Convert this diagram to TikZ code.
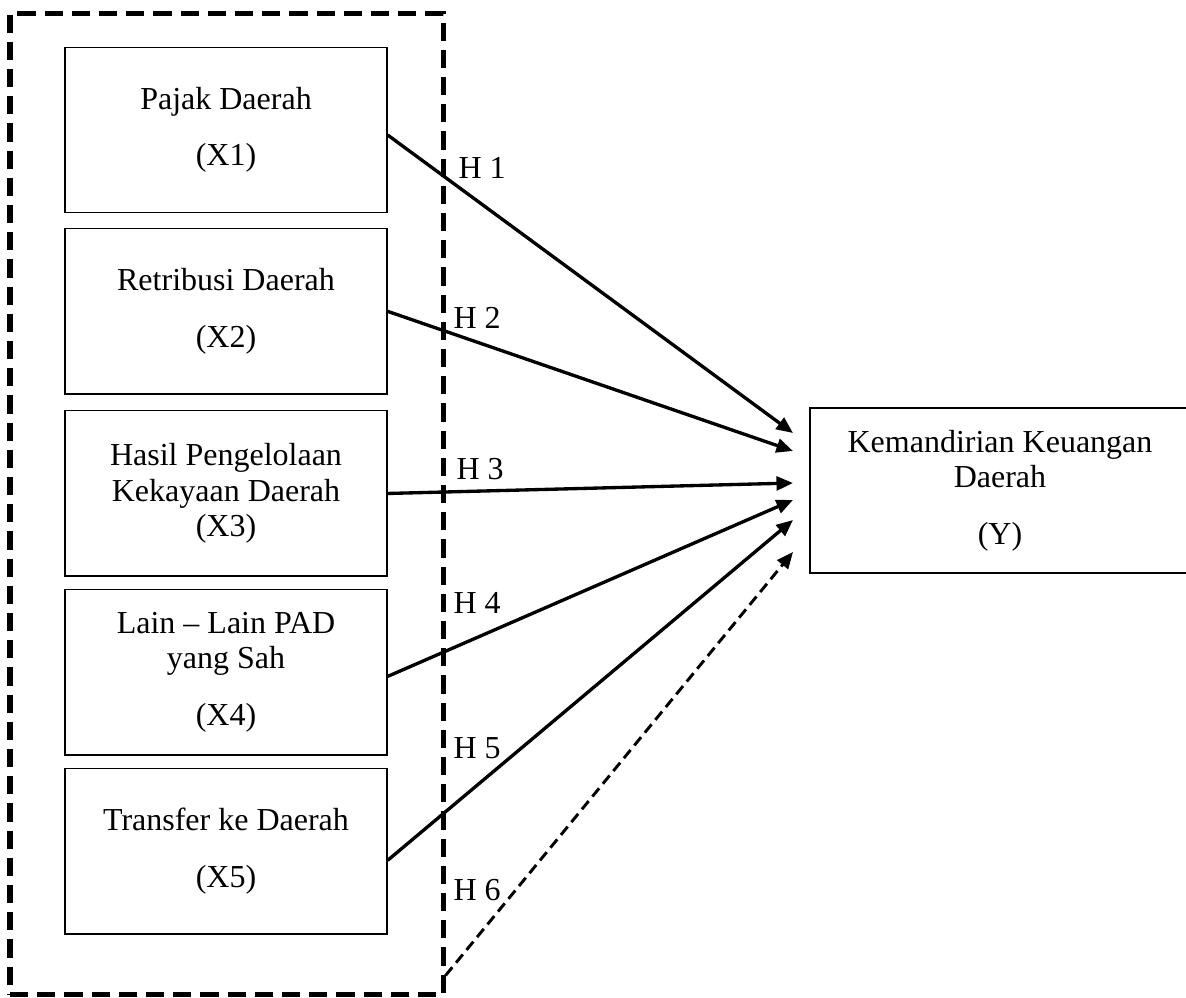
\documentclass[tikz,border=0pt]{standalone}
\usepackage{fontspec}
\setmainfont{Liberation Serif}
\usetikzlibrary{positioning,arrows.meta,calc}
\tikzset{
  var/.style={draw, line width=0.5pt, align=center, minimum width=120.75pt,
              minimum height=62pt, inner sep=0pt, font=\fontsize{12}{13.2}\selectfont},
  dep/.style={var, minimum width=142.5pt, minimum height=61.9pt},
  grp/.style={draw, line width=1.9pt, dash pattern=on 6.8pt off 3.4pt,
              minimum width=162.4pt, minimum height=368.2pt, inner sep=0pt},
  hyp/.style={-{Triangle[length=6.2pt, width=5.2pt]}, line width=1.25pt},
  hypdash/.style={hyp, line width=1.1pt, dash pattern=on 4pt off 2.2pt},
  lbl/.style={anchor=west, inner sep=0pt, font=\fontsize{12}{13}\selectfont}
}
\begin{document}
\begin{tikzpicture}[x=0.375pt, y=-0.375pt, node distance=5.5pt]
  \useasboundingbox (0,0) rectangle (1186,997);
  % outer dashed group
  \node[grp] (frame) at (226.5,504) {};
  % independent variables
  \node[var] (x1) at (226,130) {Pajak Daerah\\[8pt](X1)};
  \node[var, below=of x1] (x2) {Retribusi Daerah\\[8pt](X2)};
  \node[var, below=5.8pt of x2] (x3) {Hasil Pengelolaan\\Kekayaan Daerah\\(X3)};
  \node[var, below=4.6pt of x3] (x4) {Lain -- Lain PAD\\yang Sah\\[8pt](X4)};
  \node[var, below=4.6pt of x4] (x5) {Transfer ke Daerah\\[8pt](X5)};
  % dependent variable
  \node[dep] (y) at (1000,490.5) {Kemandirian Keuangan\\Daerah\\[8pt](Y)};
  % arrow ends
  \coordinate (t1) at (793,433);
  \coordinate (t2) at (793,451);
  \coordinate (t3) at (793,483);
  \coordinate (t4) at (793,500);
  \coordinate (t5) at (793,520);
  \coordinate (t6) at (793,552);
  \draw[hyp] ($(x1.east)+(0,5)$) -- (t1);
  \draw[hyp] (x2.east) -- (t2);
  \draw[hyp] (x3.east) -- (t3);
  \draw[hyp] ($(x4.east)+(0,4)$) -- (t4);
  \draw[hyp] ($(x5.east)+(0,9)$) -- (t5);
  \draw[hypdash] ($(frame.south east)+(0,-22)$) -- (t6);
  % hypothesis labels
  \node[lbl] (h1) at (458,168) {H 1};
  \node[lbl] (h2) at (453,318) {H 2};
  \node[lbl] (h3) at (456,469) {H 3};
  \node[lbl] (h4) at (453,603) {H 4};
  \node[lbl] (h5) at (453,748) {H 5};
  \node[lbl] (h6) at (453,890) {H 6};
\end{tikzpicture}
\end{document}
